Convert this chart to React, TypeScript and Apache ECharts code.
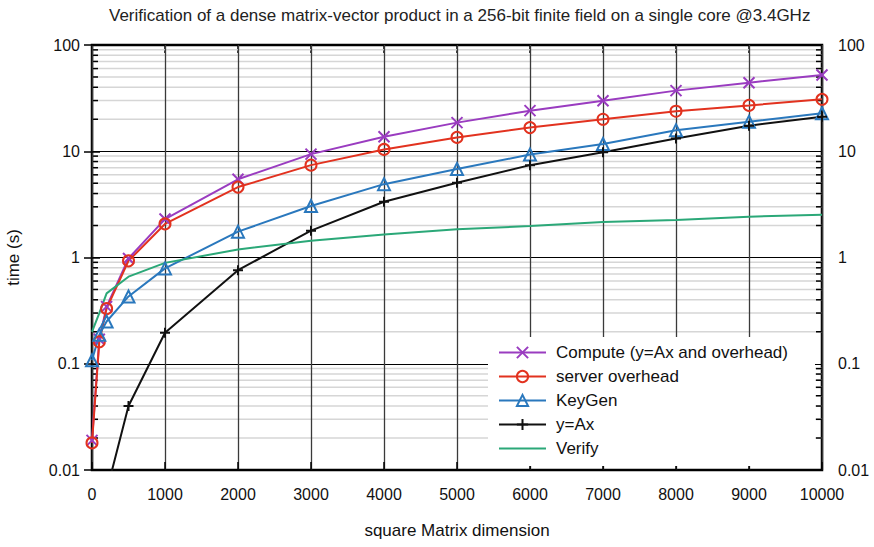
import React, { useEffect, useRef } from "react";
import * as echarts from "echarts";

const TITLE = "Verification of a dense matrix-vector product in a 256-bit finite field on a single core @3.4GHz";
const X_NAME = "square Matrix dimension";
const Y_NAME = "time (s)";

const sizes = [0, 100, 200, 500, 1000, 2000, 3000, 4000, 5000, 6000, 7000, 8000, 9000, 10000];
const compute = [0.019, 0.17, 0.345, 0.98, 2.3, 5.45, 9.4, 13.7, 18.6, 24.1, 29.9, 37.2, 44.2, 52.2];
const serverOverhead = [0.018, 0.161, 0.33, 0.93, 2.07, 4.6, 7.4, 10.4, 13.5, 16.7, 20, 23.8, 27, 30.8];
const keyGen = [0.108, 0.187, 0.25, 0.43, 0.79, 1.75, 3.05, 4.9, 6.8, 9.3, 11.7, 15.8, 19, 22.8];
const yAx = [null, null, 0.0063, 0.04, 0.196, 0.76, 1.79, 3.35, 5.06, 7.4, 9.8, 13.2, 17.4, 21.1];
const verify = [0.2, 0.3, 0.46, 0.66, 0.89, 1.19, 1.44, 1.65, 1.84, 1.98, 2.16, 2.25, 2.42, 2.53];

const seriesNames = ["Compute (y=Ax and overhead)", "server overhead", "KeyGen", "y=Ax", "Verify"];
const minorTicks = [
  0.02, 0.03, 0.04, 0.05, 0.06, 0.07, 0.08, 0.09,
  0.2, 0.3, 0.4, 0.5, 0.6, 0.7, 0.8, 0.9,
  2, 3, 4, 5, 6, 7, 8, 9,
  20, 30, 40, 50, 60, 70, 80, 90,
];

const X_MIN = 0;
const X_MAX = 10000;
const X_STEP = 1000;
const Y_MIN = 0.01;
const Y_MAX = 100;

const FONT = "'Liberation Sans', Arial, Helvetica, sans-serif";

const COLORS = {
  compute: "#9a3cc0",
  server: "#e2321f",
  keygen: "#2a78bd",
  yax: "#111111",
  verify: "#2ba878",
};

function pair(ys: (number | null)[]) {
  return sizes.map((x, i) => [x, ys[i]]);
}

export default function App() {
  const ref = useRef<HTMLDivElement>(null);
  useEffect(() => {
    document.body.style.margin = "0";
    if (!ref.current) return;
    const chart = echarts.init(ref.current, undefined, { renderer: "svg" });
    const fmt = (v: number) => String(Number(v.toPrecision(6)));
    const yAxisBase = {
      type: "log",
      logBase: 10,
      min: Y_MIN,
      max: Y_MAX,
      axisLine: { show: false },
      axisTick: { show: true, inside: true, length: 8, lineStyle: { color: "#000", width: 1.5 } },
      axisLabel: { fontFamily: FONT, fontSize: 16, color: "#111", formatter: fmt },
    };
    const xAxisBase = {
      type: "value",
      min: X_MIN,
      max: X_MAX,
      interval: X_STEP,
      axisLine: { show: false },
      axisTick: { show: true, inside: true, length: 8, lineStyle: { color: "#000", width: 1.5 } },
    };
    const option: any = {
      animation: false,
      backgroundColor: "#fff",
      title: {
        text: TITLE,
        left: 104,
        top: 2,
        textStyle: { fontFamily: FONT, fontSize: 17, fontWeight: "normal", color: "#222" },
      },
      grid: {
        left: 92,
        right: 52,
        top: 45,
        bottom: 77,
        containLabel: false,
        outerBoundsMode: "none",
        show: true,
        borderColor: "#000",
        borderWidth: 2.5,
        backgroundColor: "transparent",
      },
      legend: {
        data: [
          seriesNames[0],
          seriesNames[1],
          seriesNames[2],
          seriesNames[3],
          { name: seriesNames[4], icon: "path://M0,0L100,0L100,4.4L0,4.4Z" },
        ],
        orient: "vertical",
        left: 488,
        top: 337,
        padding: [7, 27, 9, 10],
        backgroundColor: "#fff",
        itemWidth: 47,
        itemHeight: 14,
        itemGap: 7,
        textStyle: { fontFamily: FONT, fontSize: 17, color: "#111", padding: [0, 0, 0, 5] },
      },
      xAxis: [
        {
          ...xAxisBase,
          position: "bottom",
          z: 1.5,
          name: X_NAME,
          nameLocation: "middle",
          nameGap: 52,
          nameTextStyle: { fontFamily: FONT, fontSize: 17, color: "#111" },
          axisLabel: { fontFamily: FONT, fontSize: 16, color: "#111", margin: 16, formatter: (v: number) => String(v) },
          splitLine: { show: true, lineStyle: { color: "#3a3a3a", width: 1.3 } },
        },
        {
          ...xAxisBase,
          position: "top",
          axisLabel: { show: false },
          splitLine: { show: false },
        },
      ],
      yAxis: [
        {
          ...yAxisBase,
          position: "left",
          z: 1.5,
          name: Y_NAME,
          nameLocation: "middle",
          nameGap: 70,
          nameTextStyle: { fontFamily: FONT, fontSize: 17, color: "#111" },
          axisLabel: { ...yAxisBase.axisLabel, margin: 12 },
          splitLine: { show: true, lineStyle: { color: "#000", width: 1 } },
        },
        {
          ...yAxisBase,
          position: "right",
          axisLabel: { ...yAxisBase.axisLabel, margin: 16 },
          splitLine: { show: false },
        },
      ],
      series: [
        {
          type: "custom",
          name: "minor",
          z: 1,
          silent: true,
          clip: false,
          xAxisIndex: 0,
          yAxisIndex: 0,
          data: minorTicks.map((v) => [X_MIN, v]),
          renderItem: (_params: any, api: any) => {
            const v = api.value(1);
            const a = api.coord([X_MIN, v]);
            const b = api.coord([X_MAX, v]);
            return {
              type: "group",
              children: [
                {
                  type: "line",
                  shape: { x1: a[0], y1: a[1], x2: b[0], y2: b[1] },
                  style: { stroke: "#d6d6d6", lineWidth: 1.5 },
                },
                {
                  type: "line",
                  shape: { x1: a[0], y1: a[1], x2: a[0] + 6, y2: a[1] },
                  style: { stroke: "#000", lineWidth: 1.5 },
                },
                {
                  type: "line",
                  shape: { x1: b[0] - 6, y1: b[1], x2: b[0], y2: b[1] },
                  style: { stroke: "#000", lineWidth: 1.5 },
                },
              ],
            };
          },
        },
        {
          type: "line",
          name: seriesNames[0],
          data: pair(compute),
          symbol: "path://M0,0L10,10M10,0L0,10",
          symbolSize: 11,
          lineStyle: { color: COLORS.compute, width: 2 },
          itemStyle: { color: "rgba(0,0,0,0)", borderColor: COLORS.compute, borderWidth: 2 },
          z: 3,
        },
        {
          type: "line",
          name: seriesNames[1],
          data: pair(serverOverhead),
          symbol: "circle",
          symbolSize: 11,
          lineStyle: { color: COLORS.server, width: 2 },
          itemStyle: { color: "rgba(0,0,0,0)", borderColor: COLORS.server, borderWidth: 2 },
          z: 3,
        },
        {
          type: "line",
          name: seriesNames[2],
          data: pair(keyGen),
          symbol: "triangle",
          symbolSize: 12,
          lineStyle: { color: COLORS.keygen, width: 2 },
          itemStyle: { color: "rgba(0,0,0,0)", borderColor: COLORS.keygen, borderWidth: 2 },
          z: 3,
        },
        {
          type: "line",
          name: seriesNames[3],
          data: pair(yAx),
          symbol: "path://M5,0L5,10M0,5L10,5",
          symbolSize: 10,
          lineStyle: { color: COLORS.yax, width: 2 },
          itemStyle: { color: "rgba(0,0,0,0)", borderColor: COLORS.yax, borderWidth: 2 },
          z: 3,
        },
        {
          type: "line",
          name: seriesNames[4],
          data: pair(verify),
          symbol: "none",
          lineStyle: { color: COLORS.verify, width: 2 },
          itemStyle: { color: COLORS.verify },
          z: 3,
        },
      ],
    };
    chart.setOption(option);
    return () => chart.dispose();
  }, []);
  return <div ref={ref} style={{ width: 874, height: 547 }} />;
}
